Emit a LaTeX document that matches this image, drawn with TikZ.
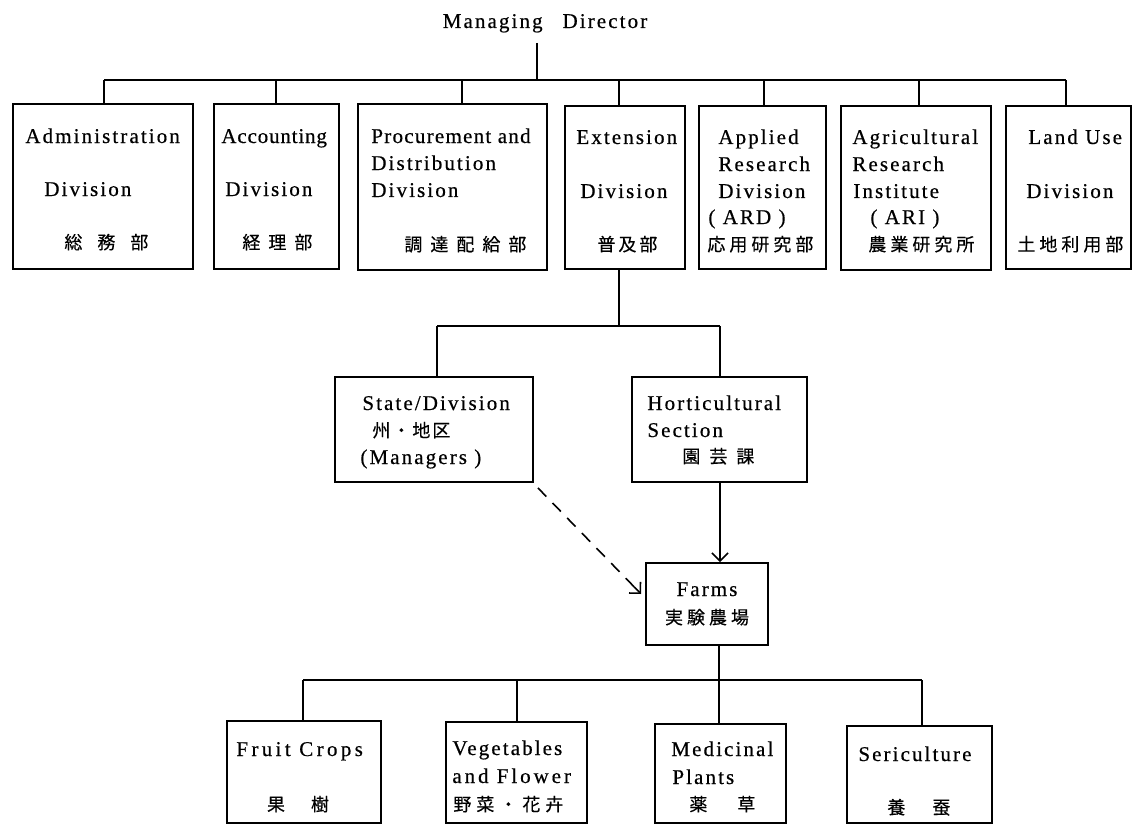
\documentclass[tikz,border=0pt]{standalone}
\usepackage{fontspec}
\setmainfont{Liberation Serif}[LetterSpace=10,FakeBold=0.5]
\newfontfamily\cjk{Noto Sans CJK JP}[FakeBold=0.4]
\usetikzlibrary{arrows.meta,fit,calc}
\newcommand\gp[1]{\hspace{#1pt}}
\begin{document}
\begin{tikzpicture}[x=0.5pt,y=-0.5pt,
  box/.style={draw, line width=0.9pt, inner sep=0pt},
  ln/.style={line width=0.8pt},
  arr/.style={-{Straight Barb[length=4pt,width=8pt,line width=0.8pt]}},
  dsh/.style={dash pattern=on 6pt off 4.5pt},
  lbl/.style={inner sep=0pt, anchor=base west, font=\fontsize{10.5pt}{12pt}\selectfont},
  cj/.style={inner sep=0pt, anchor=base west, font=\fontsize{9pt}{11pt}\cjk}]
\useasboundingbox (0,0) rectangle (1135,829);

% ---------- top ----------
\node[lbl, anchor=base] (dir) at (545,28) {Managing\hspace{0.6em} Director};

\node[box, fit={(13,104)(193,269)}] (admin) {};
\node[box, fit={(214,104)(339,269)}] (acct) {};
\node[box, fit={(358,104)(547,270)}] (proc) {};
\node[box, fit={(565,106)(685,269)}] (ext) {};
\node[box, fit={(699,106)(826,269)}] (app) {};
\node[box, fit={(841,106)(991,270)}] (agr) {};
\node[box, fit={(1006,106)(1131,269)}] (land) {};

\node[lbl] (admin1) at (25,143) {Administration};
\node[lbl] (admin2) at (44,196) {Division};
\node[cj]  (admin3) at (64,249) {総\gp{7.5}務\gp{7.5}部};

\node[lbl] (acct1) at (221,143) {\addfontfeature{LetterSpace=4}Accounting};
\node[lbl] (acct2) at (225,196) {Division};
\node[cj]  (acct3) at (242,249) {経\gp{4}理\gp{4}部};

\node[lbl] (proc1) at (371,143) {\addfontfeature{LetterSpace=6}Procurement and};
\node[lbl] (proc2) at (371,170) {Distribution};
\node[lbl] (proc3) at (371,197) {Division};
\node[cj]  (proc4) at (404,251) {調\gp{4}達\gp{4}配\gp{4}給\gp{4}部};

\node[lbl] (ext1) at (576,144) {Extension};
\node[lbl] (ext2) at (580,198) {Division};
\node[cj]  (ext3) at (597,251) {普\gp{1.5}及\gp{1.5}部};

\node[lbl] (app1) at (718,144) {Applied};
\node[lbl] (app2) at (718,171) {Research};
\node[lbl] (app3) at (718,198) {Division};
\node[lbl] (app4) at (708,224) {( ARD )};
\node[cj]  (app5) at (707,251) {応\gp{2}用\gp{2}研\gp{2}究\gp{2}部};

\node[lbl] (agr1) at (852,144) {Agricultural};
\node[lbl] (agr2) at (852,171) {Research};
\node[lbl] (agr3) at (853,198) {Institute};
\node[lbl] (agr4) at (870,224) {( ARI )};
\node[cj]  (agr5) at (868,251) {農\gp{2}業\gp{2}研\gp{2}究\gp{2}所};

\node[lbl] (land1) at (1028,144) {Land Use};
\node[lbl] (land2) at (1026,198) {Division};
\node[cj]  (land3) at (1017,251) {土\gp{2}地\gp{2}利\gp{2}用\gp{2}部};

\coordinate (dtop) at (537,43);
\coordinate (dbus) at (537,80);
\coordinate (b1) at (104,80);
\coordinate (b2) at (276,80);
\coordinate (b3) at (462,80);
\coordinate (b4) at (619,80);
\coordinate (b5) at (764,80);
\coordinate (b6) at (919,80);
\coordinate (b7) at (1066,80);
\draw[ln] (dtop) -- (dbus);
\draw[ln] (b1) -- (b7);
\draw[ln] (b1) -- (b1 |- admin.north);
\draw[ln] (b2) -- (b2 |- acct.north);
\draw[ln] (b3) -- (b3 |- proc.north);
\draw[ln] (b4) -- (b4 |- ext.north);
\draw[ln] (b5) -- (b5 |- app.north);
\draw[ln] (b6) -- (b6 |- agr.north);
\draw[ln] (b7) -- (b7 |- land.north);

% ---------- middle ----------
\node[box, fit={(335,377)(533,482)}] (state) {};
\node[box, fit={(632,377)(807,482)}] (horti) {};
\node[box, fit={(646,563)(768,645)}] (farms) {};

\node[lbl] (state1) at (362,410) {State/Division};
\node[cj]  (state2) at (372,437) {州\gp{1}・\gp{1}地\gp{1}区};
\node[lbl] (state3) at (360,464) {(Managers )};

\node[lbl] (horti1) at (647,410) {Horticultural};
\node[lbl] (horti2) at (647,437) {Section};
\node[cj]  (horti3) at (682,463) {園\gp{4.5}芸\gp{4.5}課};

\node[lbl, anchor=base] (farms1) at (707,596) {Farms};
\node[cj, anchor=base] (farms2) at (707,624) {実\gp{2}験\gp{2}農\gp{2}場};

\coordinate (m1) at (619,326);
\coordinate (mL) at (437,326);
\coordinate (mR) at (720,326);
\draw[ln] (m1 |- ext.south) -- (m1);
\draw[ln] (mL) -- (mR);
\draw[ln] (mL) -- (mL |- state.north);
\draw[ln] (mR) -- (mR |- horti.north);
\draw[ln,arr] (mR |- horti.south) -- (mR |- farms.north);
\coordinate (ds) at ([shift={(4,5)}]state.south east);
\coordinate (de) at ([shift={(-4,-10)}]farms.west);
\draw[ln,dsh] (ds) -- ($(de)!3pt!(ds)$);
\draw[ln,arr] ($(de)!5pt!(ds)$) -- (de);

% ---------- bottom ----------
\node[box, fit={(227,721)(381,823)}] (fruit) {};
\node[box, fit={(446,722)(587,823)}] (veg) {};
\node[box, fit={(655,724)(786,823)}] (med) {};
\node[box, fit={(847,726)(992,823)}] (seri) {};

\node[lbl] (fruit1) at (236,756) {\addfontfeature{LetterSpace=16}Fruit Crops};
\node[cj, anchor=base] (fruit2) at (298,811) {果\gp{13}樹};

\node[lbl] (veg1) at (452,755) {Vegetables};
\node[lbl] (veg2) at (452,783) {\addfontfeature{LetterSpace=14}and Flower};
\node[cj]  (veg3) at (453,811) {野\gp{2.5}菜\gp{2.5}・\gp{2.5}花\gp{2.5}卉};

\node[lbl] (med1) at (671,756) {Medicinal};
\node[lbl] (med2) at (672,784) {Plants};
\node[cj]  (med3) at (689,811) {薬\gp{15}草};

\node[lbl] (seri1) at (858,761) {Sericulture};
\node[cj]  (seri2) at (887,814) {養\gp{13.5}蚕};

\coordinate (fb) at (719,680);
\coordinate (c1) at (303,680);
\coordinate (c2) at (517,680);
\coordinate (c4) at (922,680);
\draw[ln] (fb |- farms.south) -- (fb);
\draw[ln] (c1) -- (c4);
\draw[ln] (c1) -- (c1 |- fruit.north);
\draw[ln] (c2) -- (c2 |- veg.north);
\draw[ln] (fb) -- (fb |- med.north);
\draw[ln] (c4) -- (c4 |- seri.north);
\end{tikzpicture}
\end{document}
